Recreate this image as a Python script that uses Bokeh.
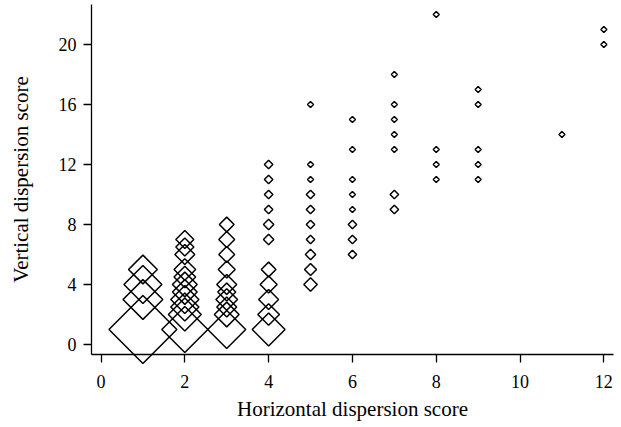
import math
from bokeh.plotting import figure
from bokeh.models import ColumnDataSource, FixedTicker, Range1d
from bokeh.embed import file_html
from bokeh.resources import INLINE

# ---- data ----
# x = horizontal dispersion score, y = vertical dispersion score,
# n = estimated number of cases at that point (marker area ~ n)
x_vals = [1, 1, 1, 1,
          2, 2, 2, 2, 2, 2, 2, 2, 2, 2, 2,
          3, 3, 3, 3, 3, 3, 3, 3, 3, 3,
          4, 4, 4, 4, 4, 4, 4, 4, 4, 4, 4,
          5, 5, 5, 5, 5, 5, 5, 5, 5, 5,
          6, 6, 6, 6, 6, 6, 6, 6,
          7, 7, 7, 7, 7, 7, 7,
          8, 8, 8, 8,
          9, 9, 9, 9, 9,
          11,
          12, 12]
y_vals = [1, 3, 4, 5,
          1, 2, 2.5, 3, 3.5, 4, 4.5, 5, 6, 6.5, 7,
          1, 2, 2.5, 3, 3.5, 4, 5, 6, 7, 8,
          1, 2, 3, 4, 5, 7, 8, 9, 10, 11, 12,
          4, 5, 6, 7, 8, 9, 10, 11, 12, 16,
          6, 7, 8, 9, 10, 11, 13, 15,
          9, 10, 13, 14, 15, 16, 18,
          11, 12, 13, 22,
          11, 12, 13, 16, 17,
          14,
          20, 21]
n_vals = [128, 44, 40, 23,
          59, 30, 22, 22, 17, 17, 13, 13, 11, 9, 9,
          40, 17, 11, 13, 9, 11, 8, 7, 7, 6,
          30, 13, 11, 8, 6, 3, 3, 2, 2, 2, 2,
          5, 4, 3, 2, 2, 2, 2, 1, 1, 1,
          2, 2, 2, 1, 1, 1, 1, 1,
          2, 2, 1, 1, 1, 1, 1,
          1, 1, 1, 1,
          1, 1, 1, 1, 1,
          1,
          1, 1]
x_ticks = [0, 2, 4, 6, 8, 10, 12]
y_ticks = [0, 4, 8, 12, 16, 20]
x_title = "Horizontal dispersion score"
y_title = "Vertical dispersion score"

# diamond = square rotated 45 deg; its diagonal width ~ 6*sqrt(n)
sizes = [6.0 * math.sqrt(n) / math.sqrt(2) for n in n_vals]
src = ColumnDataSource(dict(x=x_vals, y=y_vals, s=sizes))

FONT = "Liberation Serif"

p = figure(frame_width=522, frame_height=350,
           min_border_left=91, min_border_right=8,
           min_border_top=4, min_border_bottom=0,
           x_range=Range1d(-0.227, 12.23), y_range=Range1d(-0.667, 22.667),
           output_backend="svg", toolbar_location=None,
           background_fill_color="white", border_fill_color="white")

p.scatter("x", "y", size="s", source=src, marker="square",
          angle=math.pi / 4, fill_color=None, line_color="black",
          line_width=1.5, level="annotation")

p.grid.visible = False
p.outline_line_color = None

p.xaxis.ticker = FixedTicker(ticks=x_ticks)
p.yaxis.ticker = FixedTicker(ticks=y_ticks)
for ax in (p.xaxis[0], p.yaxis[0]):
    ax.axis_line_color = "black"
    ax.axis_line_width = 1.3
    ax.major_tick_line_color = "black"
    ax.major_tick_line_width = 1.3
    ax.major_tick_out = 8
    ax.major_tick_in = 0
    ax.minor_tick_line_color = None
    ax.major_label_text_font = FONT
    ax.major_label_text_font_size = "18px"
    ax.major_label_text_color = "black"
    ax.axis_label_text_font = FONT
    ax.axis_label_text_font_size = "21px"
    ax.axis_label_text_font_style = "normal"
    ax.axis_label_text_color = "black"

p.xaxis.axis_label = x_title
p.yaxis.axis_label = y_title
p.xaxis.major_label_standoff = 12
p.xaxis.axis_label_standoff = 6
p.yaxis.major_label_standoff = 7
p.yaxis.axis_label_standoff = 23

open("out.html", "w").write(file_html(p, INLINE))
